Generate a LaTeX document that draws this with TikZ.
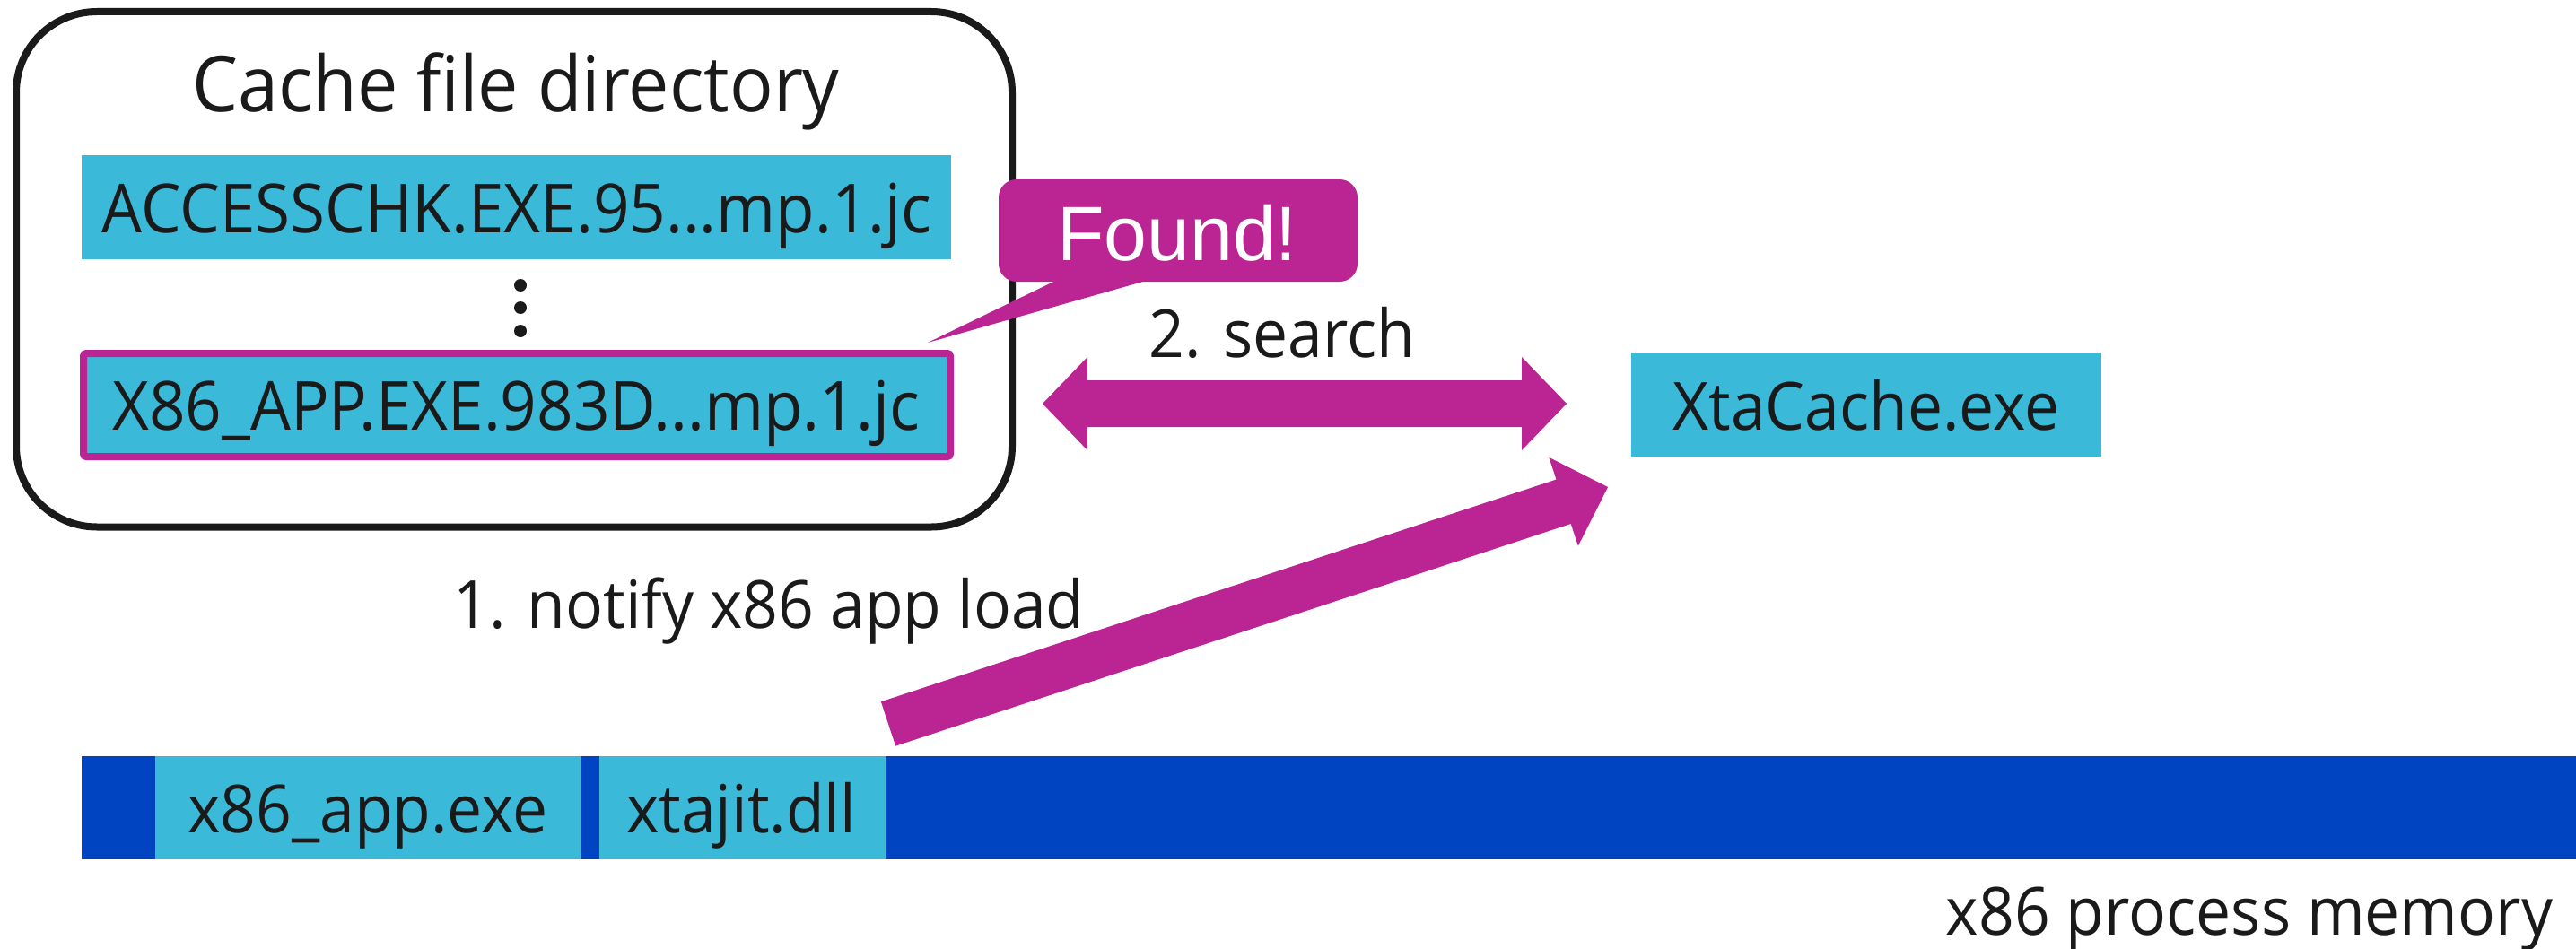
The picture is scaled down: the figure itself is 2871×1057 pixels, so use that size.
\documentclass[tikz,border=0pt]{standalone}
\usepackage{fontspec}
\setmainfont[FakeStretch=0.94]{Open Sans}
\newfontfamily\calloutfont{Liberation Sans}
\usetikzlibrary{calc}
\definecolor{filecyan}{HTML}{3BB9D9}
\definecolor{hilite}{HTML}{BB2493}
\definecolor{procblue}{HTML}{0044C1}
\definecolor{inkblack}{HTML}{1A1A1A}

\tikzset{
  lbl/.style={inner sep=0pt, anchor=base, text=inkblack, font=\fontsize{74}{80}\selectfont},
  filelbl/.style={lbl, font=\fontsize{75.5}{80}\selectfont},
  titlelbl/.style={lbl, font=\fontsize{86}{90}\selectfont},
  filebox/.style={rectangle, fill=filecyan, inner sep=0pt, outer sep=0pt},
  dirbox/.style={rectangle, draw=inkblack, line width=8pt, rounded corners=90pt, inner sep=0pt},
  dotmark/.style={circle, fill=inkblack, minimum size=14pt, inner sep=0pt},
  callout/.style={fill=hilite, rounded corners=20pt, inner sep=0pt},
  arrowfill/.style={fill=hilite},
}

% fat single-headed arrow from #1 to #2
\newcommand\fatarrow[2]{%
  \coordinate (hb) at ($(#2)!52pt!(#1)$);
  \fill[arrowfill] ($(#1)!26pt!90:(#2)$) -- ($(hb)!26pt!90:(#2)$)
    -- ($(hb)!52pt!90:(#2)$) -- (#2) -- ($(hb)!52pt!-90:(#2)$)
    -- ($(hb)!26pt!-90:(#2)$) -- ($(#1)!26pt!-90:(#2)$) -- cycle;
}
% fat double-headed arrow between #1 and #2
\newcommand\fatdoublearrow[2]{%
  \coordinate (hl) at ($(#1)!50pt!(#2)$);
  \coordinate (hr) at ($(#2)!50pt!(#1)$);
  \fill[arrowfill] (#1) -- ($(hl)!52pt!90:(#2)$) -- ($(hl)!26pt!90:(#2)$)
    -- ($(hr)!26pt!-90:(#1)$) -- ($(hr)!52pt!-90:(#1)$) -- (#2)
    -- ($(hr)!52pt!90:(#1)$) -- ($(hr)!26pt!90:(#1)$)
    -- ($(hl)!26pt!-90:(#2)$) -- ($(hl)!52pt!-90:(#2)$) -- cycle;
}

\begin{document}
\begin{tikzpicture}[x=1pt,y=-1pt]
\useasboundingbox (0,0) rectangle (2871,1057);

% cache directory
\node[dirbox, minimum width=1110pt, minimum height=574.5pt] (cachedir) at (573,300.25) {};
\node[titlelbl] (cachetitle) at (575,124) {Cache file directory};

\node[filebox, minimum width=969pt, minimum height=116pt] (accfile) at (575.5,231) {};
\node[filelbl] (acctext) at (576,259) {ACCESSCHK.EXE.95...mp.1.jc};

\node[dotmark] (dota) at (580,318) {};
\node[dotmark] (dotb) at (580,343) {};
\node[dotmark] (dotc) at (580,369) {};

\node[filebox, draw=hilite, line width=8pt, rounded corners=3pt,
      minimum width=966pt, minimum height=115pt] (x86file) at (576,451.5) {};
\node[filelbl] (x86text) at (575,479) {X86\_APP.EXE.983D...mp.1.jc};

% Found! callout
\node[callout, minimum width=400pt, minimum height=114pt] (found) at (1313,257) {};
\coordinate (foundtip) at (1034,382);
\fill[hilite] ($(found.south)+(-135,-2)$) -- (foundtip) -- ($(found.south)+(-33,-2)$) -- cycle;
\node[inner sep=0pt, anchor=base, text=white, font=\calloutfont\fontsize{86}{90}\selectfont]
  (foundtext) at (1312,290) {Found!};

% XtaCache service
\node[filebox, minimum width=524pt, minimum height=116pt] (xta) at (2080,451) {};
\node[lbl] (xtatext) at (2080,479) {XtaCache.exe};

% search arrow
\coordinate (searchL) at (1162,450);
\coordinate (searchR) at (1746,450);
\fatdoublearrow{searchL}{searchR}
\node[lbl] (searchlbl) at (1429,398) {2. search};

% process memory bar
\node[rectangle, fill=procblue, inner sep=0pt, minimum width=2780pt, minimum height=115pt]
  (membar) at (1481,900.5) {};
\node[filebox, minimum width=474pt, minimum height=115pt] (exebox) at (410,900.5) {};
\node[lbl] (exetext) at (410,928) {x86\_app.exe};
\node[filebox, minimum width=319pt, minimum height=115pt] (dllbox) at (827.5,900.5) {};
\node[lbl] (dlltext) at (826,928) {xtajit.dll};
\node[lbl] (memlbl) at (2507,1042) {x86 process memory};

% notify arrow
\coordinate (notifytail) at (990,807);
\coordinate (notifytip) at (1792,543);
\fatarrow{notifytail}{notifytip}
\node[lbl] (notifylbl) at (857,700) {1. notify x86 app load};
\end{tikzpicture}
\end{document}
